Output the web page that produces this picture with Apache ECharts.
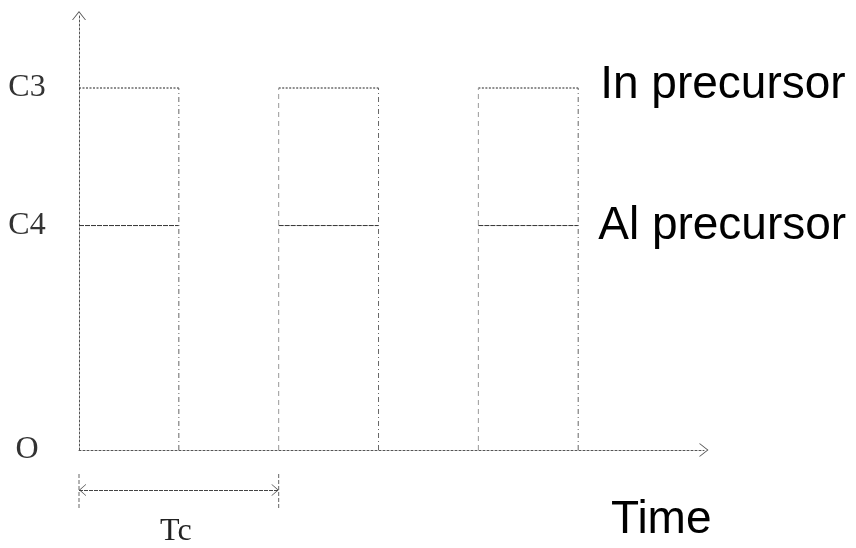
<!DOCTYPE html>
<html>
<head>
<meta charset="utf-8">
<script src="https://cdn.jsdelivr.net/npm/echarts@6/dist/echarts.min.js"></script>
<style>
html,body{margin:0;padding:0;background:#fff;}
#chart{width:856px;height:548px;}
</style>
</head>
<body>
<div id="chart"></div>
<script>
// ---- data ----
const pulseStart = [0, 2, 4];
const pulseEnd = [1, 3, 5];
const levelIn = 1.0;     // C3
const levelAl = 0.62;    // C4
const yTickValues = [0, 0.62, 1.0];
const yTickNames = ['O', 'C4', 'C3'];
const seriesNames = ['In precursor', 'Al precursor'];
const xAxisName = 'Time';
const tcSpan = [0, 2];
const tcLabel = 'Tc';

// ---- styles ----
const arrowUp = 'path://M7,0 L14,9 L13,9 L7,1.4 L1,9 L0,9 Z';
const axisColor = '#555';
const series = [];

pulseStart.forEach(function (s, i) {
  const e = pulseEnd[i];
  const last = i === pulseStart.length - 1;
  // In precursor top (C3)
  series.push({
    type: 'line', name: seriesNames[0], symbol: 'none', silent: true,
    data: [[s, levelIn], [e, levelIn]],
    lineStyle: { color: '#222', width: 1.2, type: [2, 1.5] },
    endLabel: last ? {
      show: true, formatter: seriesNames[0], distance: 22,
      fontFamily: 'Liberation Sans', fontSize: 46, color: '#000', offset: [0, -3]
    } : { show: false }
  });
  // Al precursor (C4)
  series.push({
    type: 'line', name: seriesNames[1], symbol: 'none', silent: true,
    data: [[s, levelAl], [e, levelAl]],
    lineStyle: { color: '#333', width: 1, type: [5, 1] },
    endLabel: last ? {
      show: true, formatter: seriesNames[1], distance: 20,
      fontFamily: 'Liberation Sans', fontSize: 46, color: '#000', offset: [0, 1]
    } : { show: false }
  });
  // right edge
  series.push({
    type: 'line', symbol: 'none', silent: true,
    data: [[e, 0], [e, levelIn]],
    lineStyle: { color: '#666', width: 1, type: [5, 3, 1, 3] }
  });
  // left edge (not at the axis)
  if (s > 0) {
    series.push({
      type: 'line', symbol: 'none', silent: true,
      data: [[s, 0], [s, levelIn]],
      lineStyle: { color: '#999', width: 1, type: [5, 4] }
    });
  }
});

// Tc dimension (second grid)
series.push({
  type: 'line', xAxisIndex: 1, yAxisIndex: 1, symbol: 'none', silent: true,
  data: [[tcSpan[0], 0.05], [tcSpan[0], 0.93]],
  lineStyle: { color: '#666', width: 1, type: [4, 2] }
});
series.push({
  type: 'line', xAxisIndex: 1, yAxisIndex: 1, symbol: 'none', silent: true,
  data: [[tcSpan[1], 0.05], [tcSpan[1], 0.93]],
  lineStyle: { color: '#666', width: 1, type: [4, 2] },
  markLine: {
    silent: true,
    symbol: [arrowUp, arrowUp],
    symbolSize: [12, 7],
    symbolOffset: [[0, 3.5], [0, 3.5]],
    lineStyle: { color: '#444', width: 1, type: [4, 1] },
    label: {
      show: true, formatter: tcLabel, position: 'insideMiddleBottom', distance: 26,
      fontFamily: 'Liberation Serif', fontSize: 32, color: '#222', offset: [-3, 0]
    },
    data: [[{ coord: [tcSpan[0], 0.5] }, { coord: [tcSpan[1], 0.5] }]]
  }
});

const option = {
  animation: false,
  backgroundColor: '#fff',
  grid: [
    { left: 79, top: 15.6, width: 625, height: 434.4 },
    { left: 79, top: 470, width: 625, height: 40 }
  ],
  xAxis: [
    {
      type: 'value', min: 0, max: 6.26, gridIndex: 0,
      axisLine: { show: true, symbol: ['none', arrowUp], symbolSize: [14, 9],
        lineStyle: { color: axisColor, width: 1, type: [2, 2] } },
      axisTick: { show: false }, axisLabel: { show: false }, splitLine: { show: false },
      name: xAxisName, nameLocation: 'end', nameGap: -93,
      nameTextStyle: { fontFamily: 'Liberation Sans', fontSize: 46, color: '#000',
        align: 'left', verticalAlign: 'top', padding: [47, 0, 0, 0] }
    },
    {
      type: 'value', min: 0, max: 6.26, gridIndex: 1, show: false
    }
  ],
  yAxis: [
    {
      type: 'value', min: 0, max: 1.2, gridIndex: 0,
      axisLine: { show: true, symbol: ['none', arrowUp], symbolSize: [14, 9],
        lineStyle: { color: axisColor, width: 1, type: [2, 2] } },
      axisTick: { show: false }, splitLine: { show: false },
      axisLabel: {
        show: true, customValues: yTickValues, align: 'center', margin: 52,
        fontFamily: 'Liberation Serif', fontSize: 32, color: '#333',
        formatter: function (v) {
          for (let i = 0; i < yTickValues.length; i++) {
            if (Math.abs(yTickValues[i] - v) < 1e-6) return yTickNames[i];
          }
          return '';
        }
      }
    },
    { type: 'value', min: 0, max: 1, gridIndex: 1, show: false }
  ],
  series: series
};

const chart = echarts.init(document.getElementById('chart'), null, { renderer: 'canvas' });
chart.setOption(option);
</script>
</body>
</html>
